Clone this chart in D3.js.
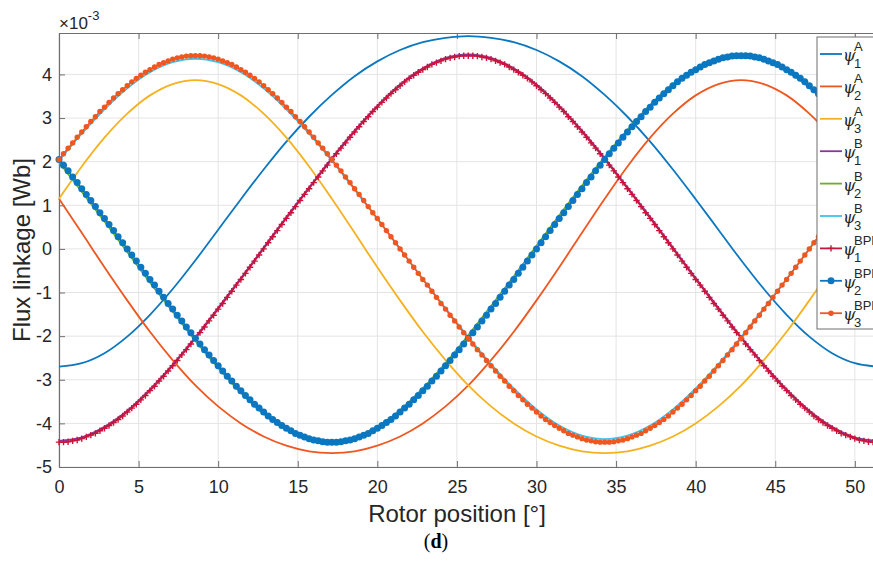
<!DOCTYPE html>
<html>
<head>
<meta charset="utf-8">
<script src="https://cdn.jsdelivr.net/npm/d3@7"></script>
<style>
  body { margin: 0; background: #fff; }
  svg { display: block; font-family: "Liberation Sans", Arial, Helvetica, sans-serif; }
</style>
</head>
<body>
<div id="chart"></div>
<script>
// rotor position sampling, degrees
var lineStep = 10 / 7;   // solid curves
var bpmStep = 2 / 7;     // marker curves

// flux linkage values, x1e-3 Wb
var psi1A = [-2.70,-2.62,-2.39,-2.01,-1.51,-0.92,-0.26,0.44,1.14,1.82,2.46,3.03,3.53,3.96,4.30,4.56,4.74,4.84,4.88,4.84,4.74,4.56,4.30,3.96,3.53,3.03,2.46,1.82,1.14,0.44,-0.26,-0.92,-1.51,-2.01,-2.39,-2.62,-2.70];
var psi2A = [1.15,0.37,-0.42,-1.18,-1.90,-2.55,-3.13,-3.61,-4.00,-4.30,-4.51,-4.64,-4.68,-4.64,-4.51,-4.30,-4.00,-3.61,-3.13,-2.55,-1.90,-1.18,-0.42,0.37,1.15,1.89,2.55,3.10,3.52,3.78,3.87,3.78,3.52,3.10,2.55,1.89,1.15];
var psi3A = [1.15,1.89,2.55,3.10,3.52,3.78,3.87,3.78,3.52,3.10,2.55,1.89,1.15,0.37,-0.42,-1.18,-1.90,-2.55,-3.13,-3.61,-4.00,-4.30,-4.51,-4.64,-4.68,-4.64,-4.51,-4.30,-4.00,-3.61,-3.13,-2.55,-1.90,-1.18,-0.42,0.37,1.15];
var psi1B = [-4.40,-4.32,-4.08,-3.71,-3.22,-2.65,-2.02,-1.35,-0.67,0.03,0.73,1.41,2.08,2.71,3.28,3.77,4.14,4.38,4.46,4.38,4.14,3.77,3.28,2.71,2.08,1.41,0.73,0.03,-0.67,-1.35,-2.02,-2.65,-3.22,-3.71,-4.08,-4.32,-4.40];
var psi2B = [1.99,1.31,0.63,-0.07,-0.77,-1.44,-2.11,-2.73,-3.30,-3.78,-4.14,-4.36,-4.43,-4.34,-4.08,-3.70,-3.20,-2.62,-1.98,-1.31,-0.63,0.07,0.77,1.45,2.11,2.73,3.30,3.78,4.14,4.36,4.43,4.34,4.08,3.70,3.20,2.62,1.99];
var psi3B = [2.02,2.64,3.20,3.68,4.05,4.28,4.36,4.28,4.05,3.68,3.20,2.64,2.02,1.36,0.69,0,-0.69,-1.36,-2.02,-2.64,-3.20,-3.68,-4.05,-4.28,-4.36,-4.28,-4.05,-3.68,-3.20,-2.64,-2.02,-1.36,-0.69,0,0.69,1.36,2.02];

var psi1BPM = [-4.43,-4.43,-4.42,-4.40,-4.38,-4.35,-4.31,-4.27,-4.23,-4.17,-4.11,-4.05,-3.98,-3.91,-3.83,-3.74,-3.65,-3.56,-3.46,-3.36,-3.25,-3.15,-3.03,-2.92,-2.80,-2.68,-2.56,-2.43,-2.31,-2.18,-2.05,-1.92,-1.79,-1.65,-1.52,-1.38,-1.25,-1.11,-0.97,-0.83,-0.70,-0.56,-0.42,-0.28,-0.14,0,
  0.14,0.28,0.42,0.56,0.70,0.83,0.97,1.11,1.25,1.38,1.52,1.65,1.79,1.92,2.05,2.18,2.31,2.43,2.56,2.68,2.80,2.92,3.03,3.15,3.25,3.36,3.46,3.56,3.65,3.74,3.83,3.91,3.98,4.05,4.11,4.17,4.23,4.27,4.31,4.35,4.38,4.40,4.42,4.43,
  4.43,4.43,4.42,4.40,4.38,4.35,4.31,4.27,4.23,4.17,4.11,4.05,3.98,3.91,3.83,3.74,3.65,3.56,3.46,3.36,3.25,3.15,3.03,2.92,2.80,2.68,2.56,2.43,2.31,2.18,2.05,1.92,1.79,1.65,1.52,1.38,1.25,1.11,0.97,0.83,0.70,0.56,0.42,0.28,0.14,0,
  -0.14,-0.28,-0.42,-0.56,-0.70,-0.83,-0.97,-1.11,-1.25,-1.38,-1.52,-1.65,-1.79,-1.92,-2.05,-2.18,-2.31,-2.43,-2.56,-2.68,-2.80,-2.92,-3.03,-3.15,-3.25,-3.36,-3.46,-3.56,-3.65,-3.74,-3.83,-3.91,-3.98,-4.05,-4.11,-4.17,-4.23,-4.27,-4.31,-4.35,-4.38,-4.40,-4.42,-4.43,-4.43];
var psi2BPM = [2.05,1.92,1.79,1.65,1.52,1.38,1.25,1.11,0.97,0.83,0.70,0.56,0.42,0.28,0.14,0,
  -0.14,-0.28,-0.42,-0.56,-0.70,-0.83,-0.97,-1.11,-1.25,-1.38,-1.52,-1.65,-1.79,-1.92,-2.05,-2.18,-2.31,-2.43,-2.56,-2.68,-2.80,-2.92,-3.03,-3.15,-3.25,-3.36,-3.46,-3.56,-3.65,-3.74,-3.83,-3.91,-3.98,-4.05,-4.11,-4.17,-4.23,-4.27,-4.31,-4.35,-4.38,-4.40,-4.42,-4.43,-4.43,
  -4.43,-4.42,-4.40,-4.38,-4.35,-4.31,-4.27,-4.23,-4.17,-4.11,-4.05,-3.98,-3.91,-3.83,-3.74,-3.65,-3.56,-3.46,-3.36,-3.25,-3.15,-3.03,-2.92,-2.80,-2.68,-2.56,-2.43,-2.31,-2.18,-2.05,-1.92,-1.79,-1.65,-1.52,-1.38,-1.25,-1.11,-0.97,-0.83,-0.70,-0.56,-0.42,-0.28,-0.14,0,
  0.14,0.28,0.42,0.56,0.70,0.83,0.97,1.11,1.25,1.38,1.52,1.65,1.79,1.92,2.05,2.18,2.31,2.43,2.56,2.68,2.80,2.92,3.03,3.15,3.25,3.36,3.46,3.56,3.65,3.74,3.83,3.91,3.98,4.05,4.11,4.17,4.23,4.27,4.31,4.35,4.38,4.40,4.42,4.43,
  4.43,4.43,4.42,4.40,4.38,4.35,4.31,4.27,4.23,4.17,4.11,4.05,3.98,3.91,3.83,3.74,3.65,3.56,3.46,3.36,3.25,3.15,3.03,2.92,2.80,2.68,2.56,2.43,2.31,2.18,2.05];
var psi3BPM = [2.05,2.18,2.31,2.43,2.56,2.68,2.80,2.92,3.03,3.15,3.25,3.36,3.46,3.56,3.65,3.74,3.83,3.91,3.98,4.05,4.11,4.17,4.23,4.27,4.31,4.35,4.38,4.40,4.42,4.43,
  4.43,4.43,4.42,4.40,4.38,4.35,4.31,4.27,4.23,4.17,4.11,4.05,3.98,3.91,3.83,3.74,3.65,3.56,3.46,3.36,3.25,3.15,3.03,2.92,2.80,2.68,2.56,2.43,2.31,2.18,2.05,1.92,1.79,1.65,1.52,1.38,1.25,1.11,0.97,0.83,0.70,0.56,0.42,0.28,0.14,0,
  -0.14,-0.28,-0.42,-0.56,-0.70,-0.83,-0.97,-1.11,-1.25,-1.38,-1.52,-1.65,-1.79,-1.92,-2.05,-2.18,-2.31,-2.43,-2.56,-2.68,-2.80,-2.92,-3.03,-3.15,-3.25,-3.36,-3.46,-3.56,-3.65,-3.74,-3.83,-3.91,-3.98,-4.05,-4.11,-4.17,-4.23,-4.27,-4.31,-4.35,-4.38,-4.40,-4.42,-4.43,-4.43,
  -4.43,-4.42,-4.40,-4.38,-4.35,-4.31,-4.27,-4.23,-4.17,-4.11,-4.05,-3.98,-3.91,-3.83,-3.74,-3.65,-3.56,-3.46,-3.36,-3.25,-3.15,-3.03,-2.92,-2.80,-2.68,-2.56,-2.43,-2.31,-2.18,-2.05,-1.92,-1.79,-1.65,-1.52,-1.38,-1.25,-1.11,-0.97,-0.83,-0.70,-0.56,-0.42,-0.28,-0.14,0,
  0.14,0.28,0.42,0.56,0.70,0.83,0.97,1.11,1.25,1.38,1.52,1.65,1.79,1.92,2.05];

var xTicks = [0, 5, 10, 15, 20, 25, 30, 35, 40, 45, 50];
var yTicks = [-5, -4, -3, -2, -1, 0, 1, 2, 3, 4];
var legendSup = ["A", "A", "A", "B", "B", "B", "BPM", "BPM", "BPM"];
var legendSub = ["1", "2", "3", "1", "2", "3", "1", "2", "3"];

var colors = {
  blue: "#0a77c0", orange: "#f0561f", yellow: "#f5b21f", purple: "#8a3699",
  green: "#6aae2c", cyan: "#3fc1ef", red: "#c8143c"
};

var width = 873, height = 563;
var svg = d3.select("#chart").append("svg")
  .attr("width", width)
  .attr("height", height);

svg.append("rect").attr("width", width).attr("height", height).attr("fill", "#fff");

var x = d3.scaleLinear().domain([0, 60]).range([59, 1014]);
var y = d3.scaleLinear().domain([-5, 4.95]).range([467, 33]);

// grid
var grid = svg.append("g");
grid.selectAll(".gx").data(xTicks).join("line")
  .attr("x1", d => x(d)).attr("x2", d => x(d))
  .attr("y1", y.range()[0]).attr("y2", y.range()[1])
  .attr("stroke", "#e4e4e4").attr("stroke-width", 1);
grid.selectAll(".gy").data(yTicks).join("line")
  .attr("x1", x.range()[0]).attr("x2", x.range()[1])
  .attr("y1", d => y(d)).attr("y2", d => y(d))
  .attr("stroke", "#e4e4e4").attr("stroke-width", 1);

// axes (plain hyphen for negatives, as in the original)
var axisColor = "#6f6f6f";
var plain = d => String(d);
var xAxis = svg.append("g").attr("transform", "translate(0," + y.range()[0] + ")")
  .call(d3.axisBottom(x).tickValues(xTicks).tickFormat(plain).tickSizeInner(-6).tickSizeOuter(0).tickPadding(13));
var xTop = svg.append("g").attr("transform", "translate(0," + y.range()[1] + ")")
  .call(d3.axisTop(x).tickValues(xTicks).tickSizeInner(-6).tickSizeOuter(0).tickFormat(""));
var yAxis = svg.append("g").attr("transform", "translate(" + x.range()[0] + ",0)")
  .call(d3.axisLeft(y).tickValues(yTicks).tickFormat(plain).tickSizeInner(-6).tickSizeOuter(0).tickPadding(7));

[xAxis, xTop, yAxis].forEach(function (a) {
  a.select(".domain").attr("stroke", axisColor).attr("stroke-width", 1.2);
  a.selectAll(".tick line").attr("stroke", axisColor);
  a.selectAll(".tick text").attr("fill", "#262626").style("font-size", "18px");
});

// curves
var smooth = d3.line()
  .x((d, i) => x(i * lineStep))
  .y(d => y(d))
  .curve(d3.curveCatmullRom);
var straight = d3.line()
  .x((d, i) => x(i * bpmStep))
  .y(d => y(d));

var plot = svg.append("g");
var lineSeries = [
  { v: psi1A, c: colors.blue },
  { v: psi2A, c: colors.orange },
  { v: psi3A, c: colors.yellow },
  { v: psi1B, c: colors.purple },
  { v: psi2B, c: colors.green },
  { v: psi3B, c: colors.cyan }
];
lineSeries.forEach(function (s) {
  plot.append("path").attr("d", smooth(s.v))
    .attr("fill", "none").attr("stroke", s.c).attr("stroke-width", 1.8);
});

var plusPath = "M-3.2,0H3.2M0,-3.2V3.2";

// psi1 BPM: + markers
plot.append("path").attr("d", straight(psi1BPM))
  .attr("fill", "none").attr("stroke", colors.red).attr("stroke-width", 1.5);
plot.append("g").selectAll("path").data(psi1BPM).join("path")
  .attr("transform", (d, i) => "translate(" + x(i * bpmStep) + "," + y(d) + ")")
  .attr("d", plusPath).attr("stroke", colors.red).attr("stroke-width", 1.4);

// psi2 BPM: filled circles
plot.append("path").attr("d", straight(psi2BPM))
  .attr("fill", "none").attr("stroke", colors.blue).attr("stroke-width", 1.5);
plot.append("g").selectAll("circle").data(psi2BPM).join("circle")
  .attr("cx", (d, i) => x(i * bpmStep)).attr("cy", d => y(d))
  .attr("r", 3.5).attr("fill", colors.blue);

// psi3 BPM: small dots
plot.append("path").attr("d", straight(psi3BPM))
  .attr("fill", "none").attr("stroke", colors.orange).attr("stroke-width", 1.6);
plot.append("g").selectAll("circle").data(psi3BPM).join("circle")
  .attr("cx", (d, i) => x(i * bpmStep)).attr("cy", d => y(d))
  .attr("r", 2.7).attr("fill", colors.orange);

// legend
var legendColors = [colors.blue, colors.orange, colors.yellow, colors.purple, colors.green, colors.cyan, colors.red, colors.blue, colors.orange];
var legend = svg.append("g").attr("transform", "translate(817,37)");
legend.append("rect").attr("width", 110).attr("height", 292)
  .attr("fill", "#fff").attr("stroke", axisColor).attr("stroke-width", 1);
var items = legend.selectAll(".item").data(legendSup).join("g")
  .attr("transform", (d, i) => "translate(0," + (17 + i * 32.4) + ")");
items.append("line").attr("x1", 3).attr("x2", 25).attr("y1", 0).attr("y2", 0)
  .attr("stroke", (d, i) => legendColors[i]).attr("stroke-width", 1.8);
items.filter((d, i) => i === 6).append("path").attr("d", plusPath)
  .attr("transform", "translate(14,0)").attr("stroke", colors.red).attr("stroke-width", 1.4);
items.filter((d, i) => i === 7).append("circle").attr("cx", 14).attr("r", 3.5).attr("fill", colors.blue);
items.filter((d, i) => i === 8).append("circle").attr("cx", 14).attr("r", 2.7).attr("fill", colors.orange);
items.append("text").attr("x", 26).attr("y", 7)
  .style("font-family", "'DejaVu Serif', serif").style("font-style", "italic").style("font-size", "16px")
  .attr("fill", "#262626").text("\u03c8");
items.append("text").attr("x", 37).attr("y", -3).style("font-size", "13px")
  .attr("fill", "#262626").text(d => d);
items.append("text").attr("x", 37).attr("y", 14).style("font-size", "13px")
  .attr("fill", "#262626").text((d, i) => legendSub[i]);

// exponent label
var expo = svg.append("text").attr("x", 59).attr("y", 29).attr("fill", "#262626").style("font-size", "17px");
expo.append("tspan").text("\u00d710");
expo.append("tspan").attr("dy", -9).style("font-size", "13px").text("-3");

// axis titles
svg.append("text").attr("x", 457).attr("y", 522).attr("text-anchor", "middle")
  .attr("fill", "#262626").style("font-size", "24px").text("Rotor position [\u00b0]");
svg.append("text").attr("transform", "translate(30,250) rotate(-90)").attr("text-anchor", "middle")
  .attr("fill", "#262626").style("font-size", "24px").text("Flux linkage  [Wb]");

// panel caption
var cap = svg.append("text").attr("x", 436).attr("y", 548).attr("text-anchor", "middle")
  .style("font-family", "'Liberation Serif', serif").style("font-size", "20px").attr("fill", "#000");
cap.append("tspan").text("(");
cap.append("tspan").style("font-weight", "bold").text("d");
cap.append("tspan").text(")");
</script>
</body>
</html>
